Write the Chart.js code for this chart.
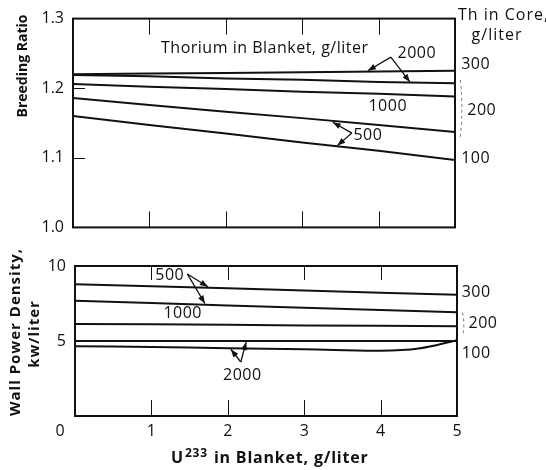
<!DOCTYPE html>
<html>
<head>
<meta charset="utf-8">
<title>Breeding ratio and wall power density vs U233 in blanket</title>
<script src="https://cdn.jsdelivr.net/npm/chart.js@4.4.0/dist/chart.umd.min.js"></script>
<style>
  html, body { margin: 0; padding: 0; background: #fff; }
  #wrap { position: relative; width: 546px; height: 470px; overflow: hidden; }
  canvas { position: absolute; left: 0; }
  #top { top: 0; }
  #bottom { top: 236px; }
</style>
</head>
<body>
<div id="wrap">
  <canvas id="top" width="546" height="246"></canvas>
  <canvas id="bottom" width="546" height="234"></canvas>
</div>
<script>
"use strict";

// U233 in blanket, g/liter
var u233 = [0, 1, 2, 3, 4, 5];
var u233Curve = [0, 1, 2, 3, 4, 4.5, 5];
var u233Ticks = [0, 1, 2, 3, 4, 5];
var u233Labels = ["0", "1", "2", "3", "4", "5"];

// Breeding ratio, curves labelled by thorium in blanket (g/liter)
var br2000Upper = [1.220, 1.221, 1.222, 1.223, 1.224, 1.225];
var br2000Lower = [1.219, 1.217, 1.214, 1.212, 1.209, 1.207];
var br1000 = [1.206, 1.202, 1.199, 1.195, 1.192, 1.188];
var br500Upper = [1.186, 1.176, 1.166, 1.157, 1.147, 1.137];
var br500Lower = [1.160, 1.147, 1.135, 1.122, 1.110, 1.097];
var brTicks = [1.0, 1.1, 1.2, 1.3];
var brMarks = [1.1, 1.2];

// Wall power density, kw/liter
var wp500 = [8.79, 8.65, 8.51, 8.36, 8.22, 8.08];
var wp1000 = [7.68, 7.53, 7.37, 7.22, 7.06, 6.91];
var wpMid = [6.14, 6.11, 6.08, 6.04, 6.01, 5.98];
var wp2000Upper = [5.0, 5.0, 5.0, 5.0, 5.0, 5.0];
var wp2000Lower = [4.65, 4.60, 4.52, 4.45, 4.35, 4.50, 5.05];
var wpTicks = [5, 10];

// Th in core, g/liter (right hand labels)
var coreLabels = ["300", "200", "100"];

var FONT = '"Open Sans", "DejaVu Sans", sans-serif';
var INK = "#111";

function lineSet(xs, ys, smooth) {
    return {
        data: xs.map(function (x, i) { return {x: x, y: ys[i]}; }),
        borderColor: INK,
        borderWidth: 2,
        pointRadius: 0,
        fill: false,
        tension: smooth ? 0.4 : 0
    };
}

function arrow(ctx, x1, y1, x2, y2) {
    var ang = Math.atan2(y2 - y1, x2 - x1);
    ctx.beginPath();
    ctx.moveTo(x1, y1);
    ctx.lineTo(x2, y2);
    ctx.stroke();
    ctx.beginPath();
    ctx.moveTo(x2, y2);
    ctx.lineTo(x2 - 8 * Math.cos(ang) + 3 * Math.sin(ang), y2 - 8 * Math.sin(ang) - 3 * Math.cos(ang));
    ctx.lineTo(x2 - 8 * Math.cos(ang) - 3 * Math.sin(ang), y2 - 8 * Math.sin(ang) + 3 * Math.cos(ang));
    ctx.closePath();
    ctx.fill();
}

// Box, inner tick marks, labels and arrows
function framePlugin(cfg) {
    return {
        id: "frame",
        afterDraw: function (chart) {
            var ctx = chart.ctx, a = chart.chartArea;
            var xs = chart.scales.x, ys = chart.scales.y;
            ctx.save();
            ctx.strokeStyle = INK;
            ctx.fillStyle = INK;
            ctx.lineWidth = 2;
            ctx.strokeRect(a.left, a.top, a.right - a.left, a.bottom - a.top);

            ctx.lineWidth = 1;
            [1, 2, 3, 4].forEach(function (v) {
                var px = Math.round(xs.getPixelForValue(v)) + 0.5;
                ctx.beginPath();
                ctx.moveTo(px, a.top);
                ctx.lineTo(px, a.top + cfg.tickTop);
                ctx.moveTo(px, a.bottom);
                ctx.lineTo(px, a.bottom - cfg.tickBottom);
                ctx.stroke();
            });
            (cfg.yMarks || []).forEach(function (v) {
                var py = Math.round(ys.getPixelForValue(v)) + 0.5;
                ctx.beginPath();
                ctx.moveTo(a.left, py);
                ctx.lineTo(a.left + 12, py);
                ctx.stroke();
            });

            // Th in core bracket
            ctx.setLineDash([3, 3]);
            ctx.strokeStyle = "#777";
            ctx.beginPath();
            var b = cfg.bracket;
            ctx.moveTo(xs.getPixelForValue(b[0]), ys.getPixelForValue(b[1]));
            ctx.quadraticCurveTo(xs.getPixelForValue(b[0]) + 3, (ys.getPixelForValue(b[1]) + ys.getPixelForValue(b[2])) / 2,
                xs.getPixelForValue(b[0]), ys.getPixelForValue(b[2]));
            ctx.stroke();
            ctx.setLineDash([]);
            ctx.strokeStyle = INK;

            ctx.lineWidth = 1.3;
            cfg.arrows.forEach(function (ar) {
                arrow(ctx, xs.getPixelForValue(ar[0]), ys.getPixelForValue(ar[1]),
                    xs.getPixelForValue(ar[2]), ys.getPixelForValue(ar[3]));
            });

            ctx.font = "16px " + FONT;
            ctx.letterSpacing = "0.5px";
            ctx.textBaseline = "middle";
            ctx.textAlign = "center";
            cfg.texts.forEach(function (t) {
                ctx.fillText(t[0], xs.getPixelForValue(t[1]), ys.getPixelForValue(t[2]));
            });

            if (cfg.draw) {
                cfg.draw(ctx, chart);
            }
            ctx.restore();
        }
    };
}

function baseOptions(pad, yMin, yMax, yTicks, fmt) {
    return {
        responsive: false,
        animation: false,
        devicePixelRatio: 1,
        layout: {padding: pad},
        plugins: {legend: {display: false}, tooltip: {enabled: false}},
        scales: {
            x: {type: "linear", min: 0, max: 5, display: false},
            y: {
                type: "linear",
                min: yMin,
                max: yMax,
                afterFit: function (s) { s.width = pad.yWidth; },
                afterBuildTicks: function (s) {
                    s.ticks = yTicks.map(function (v) { return {value: v}; });
                },
                grid: {display: false, drawTicks: false},
                border: {display: false},
                ticks: {
                    padding: 9,
                    color: INK,
                    font: {family: FONT, size: 16},
                    callback: fmt
                }
            }
        }
    };
}

// Top panel: breeding ratio
new Chart(document.getElementById("top"), {
    type: "line",
    data: {
        datasets: [
            lineSet(u233, br2000Upper),
            lineSet(u233, br2000Lower),
            lineSet(u233, br1000),
            lineSet(u233, br500Upper),
            lineSet(u233, br500Lower)
        ]
    },
    options: baseOptions({left: 0, top: 12, right: 91, bottom: 6, yWidth: 73}, 1.0, 1.3, brTicks,
        function (v) { return v.toFixed(1); }),
    plugins: [framePlugin({
        tickTop: 16,
        tickBottom: 16,
        yMarks: brMarks,
        bracket: [5.07, 1.212, 1.13],
        arrows: [
            [4.16, 1.2447, 3.86, 1.2250],
            [4.16, 1.2447, 4.41, 1.2090],
            [3.65, 1.1355, 3.40, 1.1510],
            [3.65, 1.1355, 3.46, 1.1175]
        ],
        texts: [
            ["Thorium in Blanket, g/liter", 2.51, 1.2566],
            ["2000", 4.50, 1.2500],
            ["1000", 4.12, 1.1737],
            ["500", 3.86, 1.1316],
            [coreLabels[0], 5.27, 1.2340],
            [coreLabels[1], 5.35, 1.1684],
            [coreLabels[2], 5.27, 1.0987]
        ],
        draw: function (ctx) {
            ctx.font = "16px " + FONT;
            ctx.letterSpacing = "1px";
            ctx.textAlign = "left";
            ctx.fillText("Th in Core,", 458, 15);
            ctx.textAlign = "center";
            ctx.fillText("g/liter", 497, 35);
            ctx.save();
            ctx.translate(23, 66);
            ctx.rotate(-Math.PI / 2);
            ctx.font = "bold 14px " + FONT;
            ctx.letterSpacing = "0px";
            ctx.fillText("Breeding Ratio", 0, 0);
            ctx.restore();
        }
    })]
});

// Bottom panel: wall power density
new Chart(document.getElementById("bottom"), {
    type: "line",
    data: {
        datasets: [
            lineSet(u233, wp500),
            lineSet(u233, wp1000),
            lineSet(u233, wpMid),
            lineSet(u233, wp2000Upper),
            lineSet(u233Curve, wp2000Lower, true)
        ]
    },
    options: baseOptions({left: 0, top: 30, right: 89, bottom: 54, yWidth: 75}, 0, 10, wpTicks,
        function (v) { return String(v); }),
    plugins: [framePlugin({
        tickTop: 14,
        tickBottom: 16,
        bracket: [5.07, 6.9, 5.3],
        arrows: [
            [1.47, 9.47, 1.74, 8.62],
            [1.47, 9.47, 1.70, 7.50],
            [2.17, 3.60, 2.24, 4.93],
            [2.17, 3.60, 2.04, 4.45]
        ],
        texts: [
            ["500", 1.24, 9.40],
            ["1000", 1.41, 6.87],
            ["2000", 2.19, 2.73],
            [coreLabels[0], 5.25, 8.27],
            [coreLabels[1], 5.34, 6.20],
            [coreLabels[2], 5.25, 4.20]
        ],
        draw: function (ctx, chart) {
            var xs = chart.scales.x, a = chart.chartArea;
            ctx.font = "16px " + FONT;
            ctx.letterSpacing = "0px";
            ctx.textAlign = "center";
            u233Ticks.forEach(function (v, i) {
                var shift = v === 0 ? -15 : 0;
                ctx.fillText(u233Labels[i], xs.getPixelForValue(v) + shift, a.bottom + 15);
            });

            // x axis title with superscript
            ctx.textAlign = "left";
            ctx.textBaseline = "alphabetic";
            ctx.letterSpacing = "0.8px";
            var x = 171, y = 227;
            ctx.font = "bold 16px " + FONT;
            ctx.fillText("U", x, y);
            x += ctx.measureText("U").width + 1;
            ctx.font = "bold 12px " + FONT;
            ctx.fillText("233", x, y - 6);
            x += ctx.measureText("233").width + 6;
            ctx.font = "bold 16px " + FONT;
            ctx.fillText("in Blanket, g/liter", x, y);

            ctx.textAlign = "center";
            ctx.textBaseline = "middle";
            ctx.save();
            ctx.translate(16, 96);
            ctx.rotate(-Math.PI / 2);
            ctx.font = "bold 15px " + FONT;
            ctx.letterSpacing = "1px";
            ctx.fillText("Wall Power Density,", 0, 0);
            ctx.fillText("kw/liter", -2, 19);
            ctx.restore();
        }
    })]
});
</script>
</body>
</html>
